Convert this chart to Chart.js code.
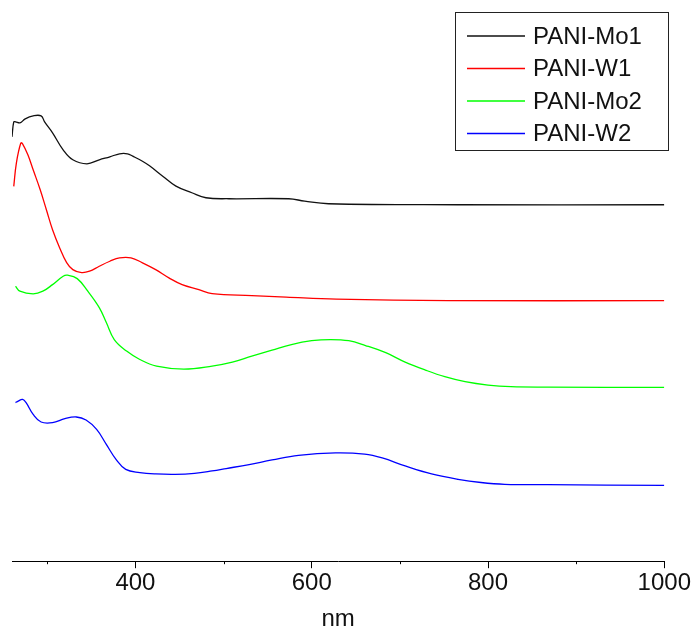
<!DOCTYPE html>
<html>
<head>
<meta charset="utf-8">
<script src="https://cdn.jsdelivr.net/npm/chart.js@4.4.1/dist/chart.umd.min.js"></script>
<style>
  html, body { margin: 0; padding: 0; background: #fff; }
  #wrap { width: 692px; height: 631px; }
</style>
</head>
<body>
<div id="wrap"><canvas id="myChart"></canvas></div>
<script>
// Spectra (wavelength in nm, absorbance in arbitrary offset units)
const seriesNames = ['PANI-Mo1', 'PANI-W1', 'PANI-Mo2', 'PANI-W2'];
const seriesColors = ['#111111', '#ff0000', '#00ff00', '#0000ff'];

const mo1Nm  = [260, 262, 264, 269, 275, 284, 293, 297, 306, 318, 329, 345, 359, 371, 382, 391, 397, 408, 416, 431, 446, 464, 480, 506, 574, 592, 619, 766, 1000];
const mo1Abs = [2.125, 2.2, 2.2, 2.195, 2.215, 2.23, 2.23, 2.2, 2.145, 2.06, 2.01, 1.99, 2.01, 2.025, 2.04, 2.04, 2.028, 2.003, 1.98, 1.928, 1.878, 1.845, 1.82, 1.815, 1.815, 1.803, 1.79, 1.785, 1.785];

const w1Nm  = [262, 265, 270, 272, 278, 284, 292, 299, 306, 314, 322, 329, 339, 348, 359, 371, 382, 395, 408, 423, 438, 453, 472, 487, 532, 571, 628, 755, 1000];
const w1Abs = [1.877, 1.995, 2.094, 2.09, 2.035, 1.96, 1.86, 1.76, 1.66, 1.57, 1.495, 1.46, 1.445, 1.452, 1.477, 1.502, 1.519, 1.519, 1.494, 1.46, 1.419, 1.385, 1.36, 1.34, 1.33, 1.3225, 1.3125, 1.305, 1.305];

const mo2Nm  = [264, 269, 284, 295, 306, 318, 323, 334, 346, 359, 367, 376, 390, 405, 424, 455, 487, 510, 532, 555, 577, 600, 621, 642, 661, 684, 706, 729, 751, 774, 800, 826, 868, 1000];
const mo2Abs = [1.377, 1.352, 1.339, 1.352, 1.385, 1.427, 1.432, 1.415, 1.352, 1.27, 1.195, 1.11, 1.052, 1.01, 0.977, 0.962, 0.977, 0.997, 1.027, 1.057, 1.085, 1.104, 1.11, 1.104, 1.08, 1.044, 0.997, 0.957, 0.924, 0.899, 0.882, 0.874, 0.872, 0.87];

const w2Nm  = [264, 267, 272, 276, 284, 293, 306, 320, 333, 344, 356, 367, 378, 389, 405, 423, 445, 467, 487, 503, 529, 555, 585, 627, 660, 680, 706, 736, 766, 792, 819, 868, 1000];
const w2Abs = [0.794, 0.802, 0.81, 0.794, 0.735, 0.697, 0.694, 0.714, 0.722, 0.707, 0.66, 0.585, 0.51, 0.46, 0.444, 0.437, 0.435, 0.44, 0.452, 0.464, 0.484, 0.507, 0.53, 0.542, 0.536, 0.517, 0.477, 0.437, 0.41, 0.394, 0.385, 0.383, 0.38];

const xTicks = [300, 400, 500, 600, 700, 800, 900, 1000];
const xLabels = [400, 600, 800, 1000];

const allNm = [mo1Nm, w1Nm, mo2Nm, w2Nm];
const allAbs = [mo1Abs, w1Abs, mo2Abs, w2Abs];

function toPoints(xs, ys) {
    return xs.map((x, i) => ({ x: x, y: ys[i] }));
}

const FONT = "'Liberation Sans', Arial, sans-serif";

// minor ticks (short) and the boxed legend inside the plot
const extrasPlugin = {
    id: 'extras',
    afterDraw(chart) {
        const ctx = chart.ctx;
        const xs = chart.scales.x;
        const bottom = chart.chartArea.bottom;
        ctx.save();
        ctx.strokeStyle = '#000';
        ctx.lineWidth = 1;
        xTicks.forEach(v => {
            if (xLabels.indexOf(v) === -1) {
                const px = Math.round(xs.getPixelForValue(v)) + 0.5;
                ctx.beginPath();
                ctx.moveTo(px, bottom);
                ctx.lineTo(px, bottom + 3);
                ctx.stroke();
            }
        });

        // legend box
        ctx.strokeStyle = '#222';
        ctx.strokeRect(455.5, 12.5, 213, 138);
        ctx.font = '24px ' + FONT;
        ctx.textBaseline = 'middle';
        ctx.fillStyle = '#111';
        seriesNames.forEach((name, i) => {
            const y = 36 + i * 32.5;
            ctx.strokeStyle = seriesColors[i];
            ctx.lineWidth = 1.3;
            ctx.beginPath();
            ctx.moveTo(467, y);
            ctx.lineTo(525, y);
            ctx.stroke();
            ctx.fillText(name, 533, y + 1);
        });
        ctx.restore();
    }
};

const ctx = document.getElementById('myChart').getContext('2d');
window.myChart = new Chart(ctx, {
    type: 'line',
    data: {
        datasets: seriesNames.map((name, i) => ({
            label: name,
            data: toPoints(allNm[i], allAbs[i]),
            borderColor: seriesColors[i],
            borderWidth: 1.3,
            pointRadius: 0,
            fill: false,
            tension: 0.4
        }))
    },
    options: {
        responsive: true,
        maintainAspectRatio: false,
        animation: false,
        layout: { padding: { top: 22, left: 12, right: 25, bottom: 0 } },
        plugins: {
            legend: { display: false },
            tooltip: { enabled: false }
        },
        scales: {
            x: {
                type: 'linear',
                min: 260,
                max: 1000,
                afterBuildTicks(scale) {
                    scale.ticks = xTicks.map(v => ({ value: v }));
                },
                grid: {
                    drawOnChartArea: false,
                    drawTicks: true,
                    tickLength: 7,
                    tickColor: c => (c.tick && xLabels.indexOf(c.tick.value) !== -1) ? '#000' : 'rgba(0,0,0,0)'
                },
                border: { display: true, color: '#000', width: 1 },
                ticks: {
                    autoSkip: false,
                    maxRotation: 0,
                    padding: 1,
                    color: '#111',
                    font: { family: FONT, size: 24 },
                    callback: v => xLabels.indexOf(v) !== -1 ? String(v) : ''
                },
                title: {
                    display: true,
                    text: 'nm',
                    color: '#111',
                    font: { family: FONT, size: 24, lineHeight: 1 },
                    padding: { top: 8, bottom: 0 }
                }
            },
            y: {
                display: false,
                min: 0,
                max: 2.7
            }
        }
    },
    plugins: [extrasPlugin]
});
</script>
</body>
</html>
